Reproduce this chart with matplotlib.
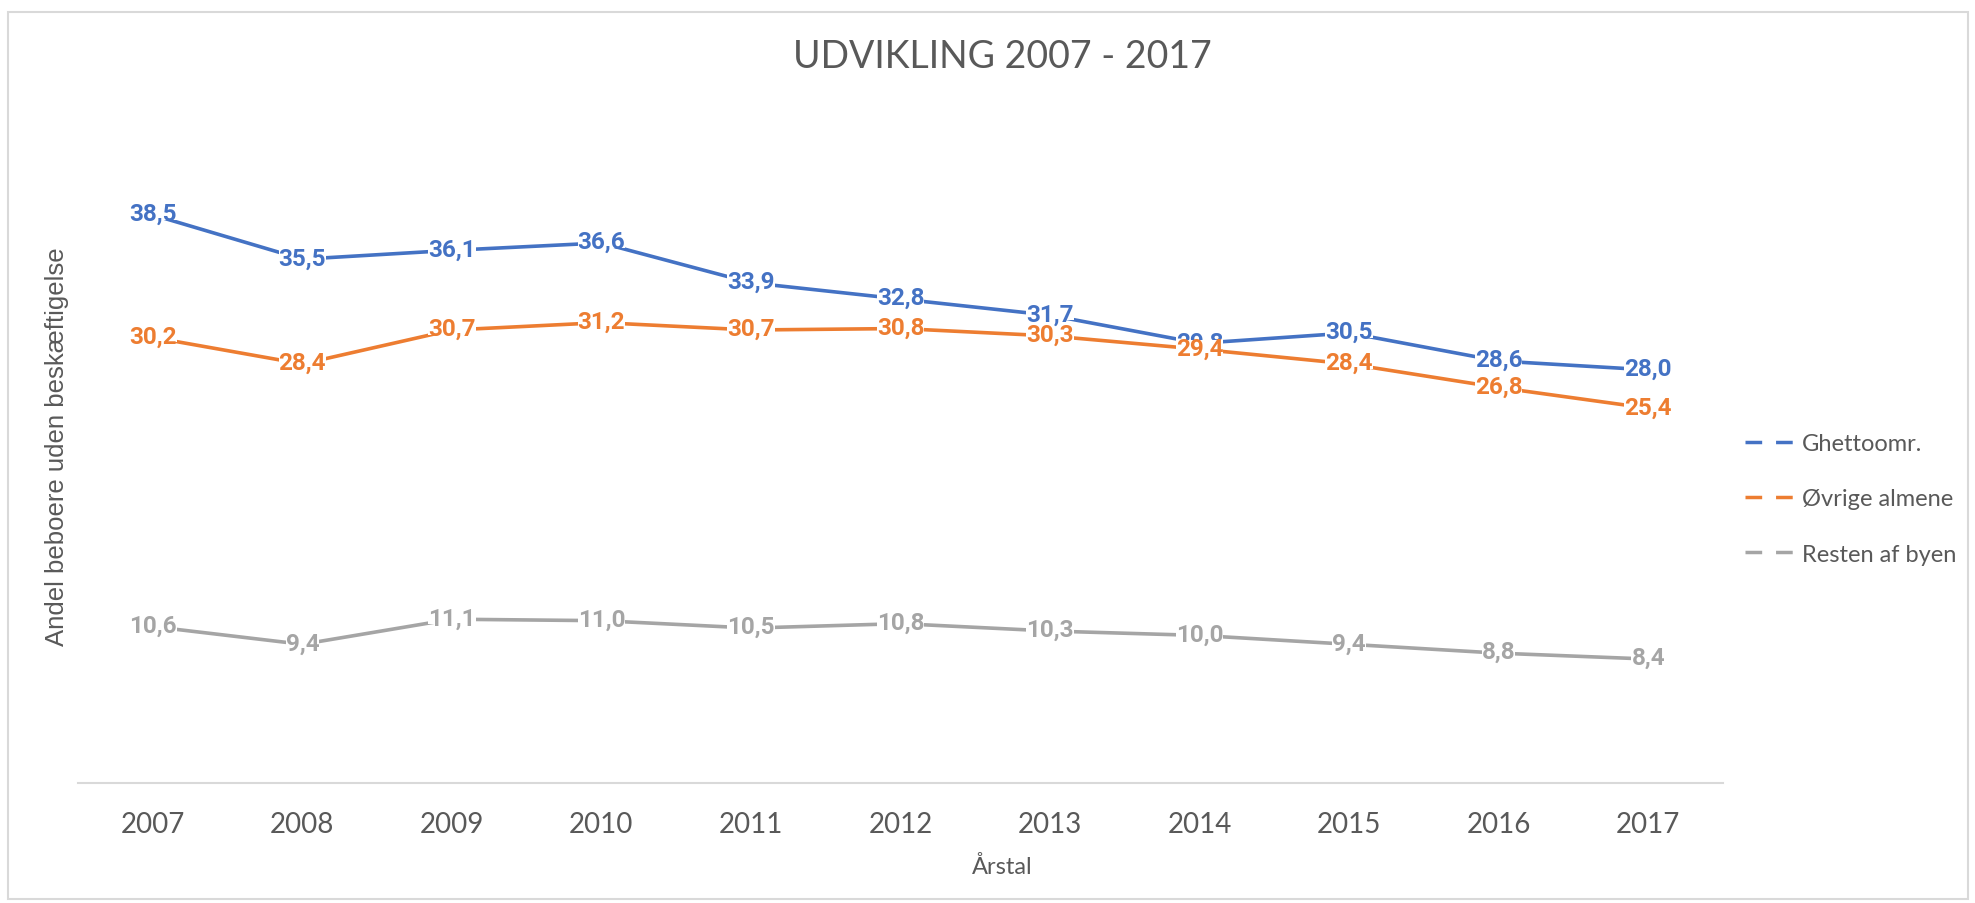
import matplotlib.pyplot as plt
from matplotlib.lines import Line2D
from matplotlib.patches import Rectangle
from matplotlib.path import Path

years = ['2007', '2008', '2009', '2010', '2011', '2012', '2013', '2014', '2015', '2016', '2017']
ghetto = [38.5, 35.5, 36.1, 36.6, 33.9, 32.8, 31.7, 29.8, 30.5, 28.6, 28.0]
ovrige = [30.2, 28.4, 30.7, 31.2, 30.7, 30.8, 30.3, 29.4, 28.4, 26.8, 25.4]
resten = [10.6, 9.4, 11.1, 11.0, 10.5, 10.8, 10.3, 10.0, 9.4, 8.8, 8.4]
names = ['Ghettoomr.', 'Øvrige almene', 'Resten af byen']
colors = ['#4472C4', '#ED7D31', '#A5A5A5']

plt.rcParams['font.family'] = ['Lato', 'DejaVu Sans']
grey = '#595959'


def tight_box(x0, y0, width, height, mutation_size):
    # white patch behind the digits only (skip line-height padding)
    b = y0 + 0.22 * height
    t = y0 + 0.83 * height
    return Path([(x0, b), (x0 + width, b), (x0 + width, t), (x0, t), (x0, b)], closed=True)


fig = plt.figure(figsize=(19.75, 9.04), dpi=100)
ax = fig.add_axes([78 / 1975, 1 - 784 / 904, (1723 - 78) / 1975, (784 - 120) / 904])

x = list(range(len(years)))
for vals, c in zip([ghetto, ovrige, resten], colors):
    ax.plot(x, vals, color=c, lw=2.6, solid_joinstyle='round', zorder=2)
for vals, c in zip([ghetto, ovrige, resten], colors):
    for xi, v in zip(x, vals):
        ax.annotate(f'{v:.1f}'.replace('.', ','), (xi, v), xytext=(0, 1),
                    textcoords='offset points', ha='center', va='center',
                    fontsize=17.5, fontweight='bold', color=c, zorder=3,
                    family=['Roboto', 'DejaVu Sans'],
                    bbox=dict(boxstyle=tight_box, fc='white', ec='none'))

ax.set_xlim(-0.5, len(years) - 0.5)
ax.set_ylim(0, 45)
ax.set_xticks(x)
ax.set_xticklabels(years, fontsize=20, color=grey)
ax.tick_params(axis='x', length=0, pad=20)
ax.set_yticks([])
for s in ['top', 'right', 'left']:
    ax.spines[s].set_visible(False)
ax.spines['bottom'].set_color('#D9D9D9')
ax.spines['bottom'].set_linewidth(1.5)

fig.text(1002 / 1975, 1 - 57 / 904, 'UDVIKLING 2007 - 2017', ha='center', va='center',
         fontsize=27, color=grey)
fig.text(1002 / 1975, 1 - 867 / 904, 'Årstal', ha='center', va='center',
         fontsize=17, color=grey)
fig.text(57 / 1975, 1 - 447 / 904, 'Andel beboere uden beskæftigelse', rotation=90,
         ha='center', va='center', fontsize=18.5, color=grey, family='Liberation Sans')

plt.rcParams['lines.scale_dashes'] = False
handles = [Line2D([], [], color=c, lw=2.5, linestyle=(0, (12, 10))) for c in colors]
fig.legend(handles, names, loc='center left', bbox_to_anchor=(1745 / 1975, 1 - 500 / 904),
           frameon=False, fontsize=17, handlelength=2.2, handletextpad=0.2,
           labelspacing=1.45, borderpad=0, borderaxespad=0, labelcolor=grey)

fig.patches.append(Rectangle((8 / 1975, 4 / 904), 1960 / 1975, 887 / 904,
                             transform=fig.transFigure, fill=False,
                             edgecolor='#D9D9D9', lw=1.5))

fig.savefig('out.png', dpi=100)
